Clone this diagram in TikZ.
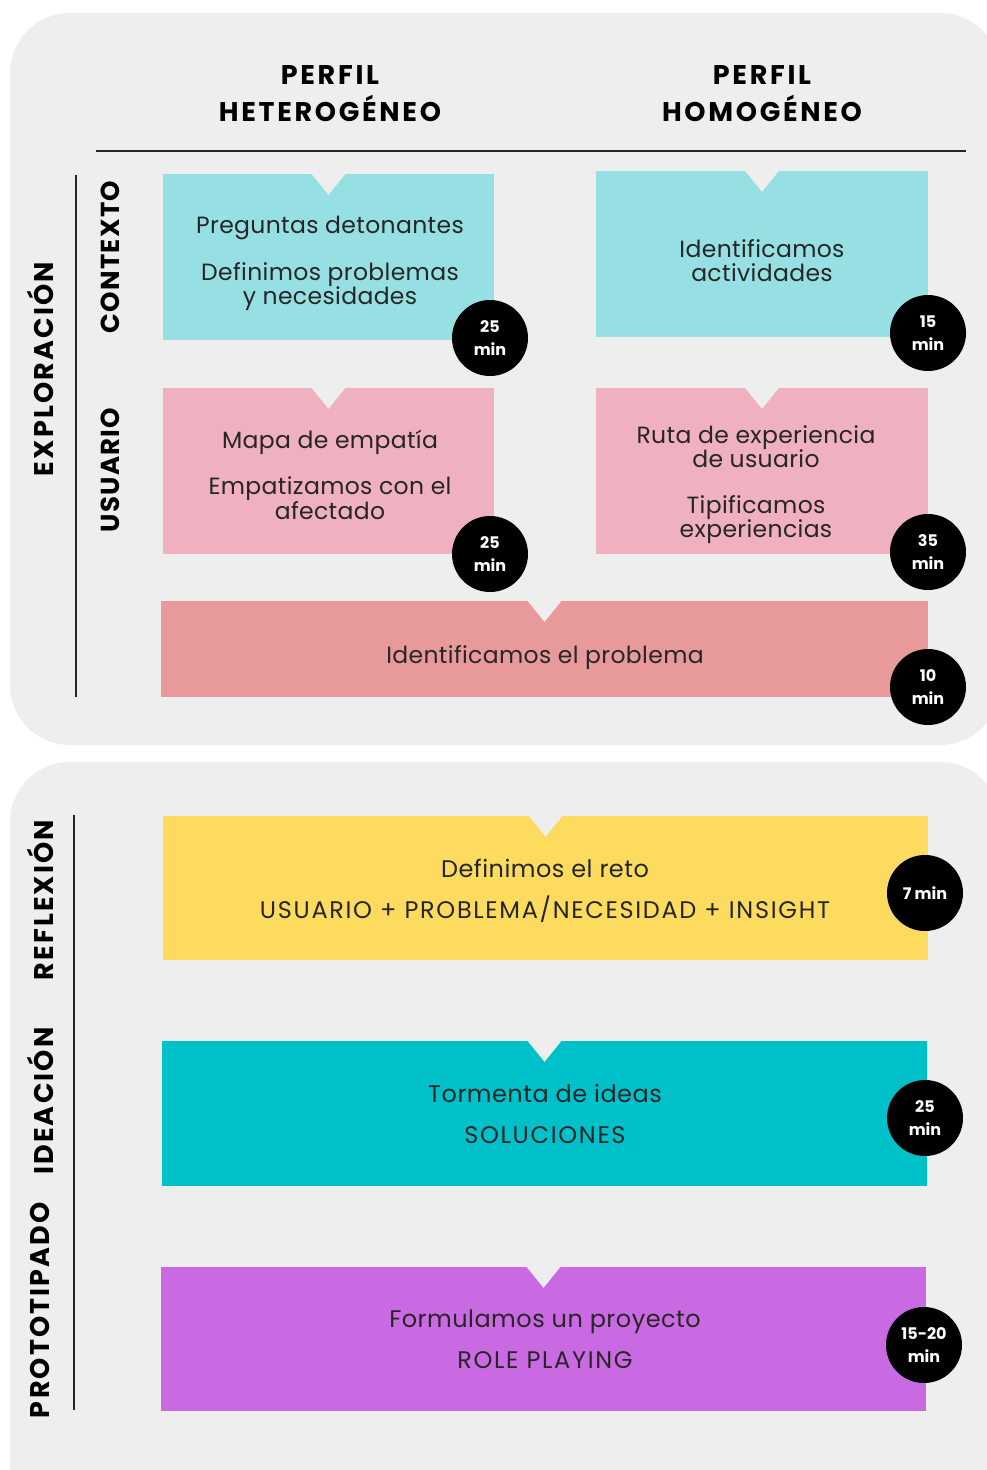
\documentclass[tikz,border=0pt]{standalone}
\usepackage{fontspec}
\setmainfont{Poppins}
\definecolor{panelgray}{HTML}{EEEEEE}
\definecolor{cyanl}{HTML}{96E0E3}
\definecolor{pinkl}{HTML}{EFB0BF}
\definecolor{salmon}{HTML}{E89A9B}
\definecolor{yell}{HTML}{FCDB5E}
\definecolor{teal2}{HTML}{00C1C9}
\definecolor{purp}{HTML}{C96AE2}
\definecolor{textdark}{HTML}{262626}
\newcommand\notchcut[1]{\fill[panelgray] ([xshift=-17pt]#1.north) -- ([xshift=17pt]#1.north) -- ([yshift=-21pt]#1.north) -- cycle;}
\newcommand\caps[1]{{\addfontfeature{LetterSpace=7}#1}}
\begin{document}
\begin{tikzpicture}[x=1pt,y=-1pt,
  panel/.style={fill=panelgray, rounded corners=60pt},
  card/.style={rectangle, inner sep=0pt, draw=none},
  txt/.style={align=center, text=textdark, font=\fontsize{23.5}{24}\selectfont\addfontfeature{LetterSpace=1.5}},
  btxt/.style={align=center, text=textdark, font=\fontsize{24}{24}\selectfont\addfontfeature{LetterSpace=2}},
  head/.style={align=center, text=black, font=\bfseries\fontsize{27}{37}\selectfont\addfontfeature{LetterSpace=10}},
  vlab/.style={rotate=90, text=black, font=\bfseries\fontsize{27}{30}\selectfont\addfontfeature{LetterSpace=8}},
  vlabs/.style={rotate=90, text=black, font=\bfseries\fontsize{26}{30}\selectfont\addfontfeature{LetterSpace=5}},
  badge/.style={circle, fill=black, minimum size=76pt, inner sep=0pt, text=white, align=center, font=\bfseries\fontsize{16}{23}\selectfont},
  rule/.style={draw=black!85, line width=2pt}]
\useasboundingbox (0,0) rectangle (987,1470);
\clip (0,0) rectangle (987,1470);
\fill[white] (0,0) rectangle (987,1470);
% panels
\fill[panel] (10,13) rectangle (1000,745);
\fill[panel] (10,762) rectangle (1000,1530);
% headings
\node[head] (h1) at (330,94) {PERFIL\\HETEROGÉNEO};
\node[head] (h2) at (762,94) {PERFIL\\HOMOGÉNEO};
\coordinate (r1a) at (96,151);
\coordinate (r1b) at (966,151);
\draw[rule] (r1a) -- (r1b);
% vertical rules
\coordinate (v1a) at (76,175);
\coordinate (v1b) at (76,697);
\draw[rule] (v1a) -- (v1b);
\coordinate (v2a) at (74,815);
\coordinate (v2b) at (74,1410);
\draw[rule] (v2a) -- (v2b);
% vertical labels
\node[vlab] (lexp) at (40,369) {EXPLORACIÓN};
\node[vlabs] (lctx) at (110,257) {CONTEXTO};
\node[vlabs] (lusu) at (110,470) {USUARIO};
\node[vlab] (lref) at (40,900) {REFLEXIÓN};
\node[vlab] (lide) at (40,1101) {IDEACIÓN};
\node[vlab] (lpro) at (40,1310) {PROTOTIPADO};
% cards
\node[card, fill=cyanl, minimum width=331pt, minimum height=166pt] (c1) at (328.5,257) {};
\notchcut{c1}
\node[card, fill=cyanl, minimum width=332pt, minimum height=166pt] (c2) at (762,254) {};
\notchcut{c2}
\node[card, fill=pinkl, minimum width=331pt, minimum height=166pt] (c3) at (328.5,471) {};
\notchcut{c3}
\node[card, fill=pinkl, minimum width=332pt, minimum height=166pt] (c4) at (762,471) {};
\notchcut{c4}
\node[card, fill=salmon, minimum width=767pt, minimum height=96pt] (c5) at (544.5,649) {};
\notchcut{c5}
\node[card, fill=yell, minimum width=765pt, minimum height=144pt] (c6) at (545.5,888) {};
\notchcut{c6}
\node[card, fill=teal2, minimum width=765pt, minimum height=145pt] (c7) at (544.5,1113.5) {};
\notchcut{c7}
\node[card, fill=purp, minimum width=765pt, minimum height=144pt] (c8) at (543.5,1339) {};
\notchcut{c8}
% texts
\node[txt] (t1) at (330,263) {Preguntas detonantes\\[22pt]Definimos problemas\\y necesidades};
\node[txt] (t2) at (762,260.5) {Identificamos\\actividades};
\node[txt] (t3) at (330,474.5) {Mapa de empatía\\[22pt]Empatizamos con el\\afectado};
\node[txt] (t4) at (756,485) {Ruta de experiencia\\de usuario\\[22pt]Tipificamos\\experiencias};
\node[txt] (t5) at (545,658) {Identificamos el problema};
\node[btxt] (t6) at (545,890.5) {Definimos el reto\\[17pt]\caps{USUARIO + PROBLEMA/NECESIDAD + INSIGHT}};
\node[btxt] (t7) at (545,1114) {Tormenta de ideas\\[17pt]\caps{SOLUCIONES}};
\node[btxt] (t8) at (545,1339.5) {Formulamos un proyecto\\[17pt]\caps{ROLE PLAYING}};
% badges
\node[badge] (b1) at (490,338) {25\\min};
\node[badge] (b2) at (928,333) {15\\min};
\node[badge] (b3) at (490,554) {25\\min};
\node[badge] (b4) at (928,552) {35\\min};
\node[badge] (b5) at (928,687) {10\\min};
\node[badge] (b6) at (925,893) {7 min};
\node[badge] (b7) at (925,1118) {25\\min};
\node[badge] (b8) at (924,1345) {15-20\\min};
\end{tikzpicture}
\end{document}
